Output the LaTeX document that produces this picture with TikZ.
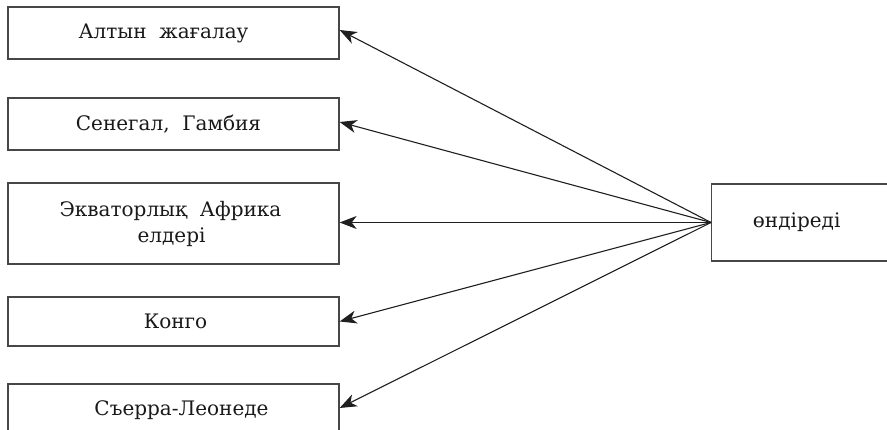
\documentclass[tikz,border=0pt]{standalone}
\usepackage{fontspec}
\setmainfont{DejaVu Serif}
\usetikzlibrary{arrows.meta}
\begin{document}
\begin{tikzpicture}[x=1pt,y=-1pt,
  box/.style={draw=black!72,line width=1.3pt,minimum width=331pt,inner sep=0pt,align=center,text=black!90,font=\fontsize{20}{26}\selectfont},
  arr/.style={draw=black!88,line width=1.1pt,-{Stealth[length=17pt,width=13pt,inset=5pt]}}]
\useasboundingbox (0,0) rectangle (887,430);
\clip (0,0) rectangle (887,430);
\node[box,minimum height=52pt] (b1) at (173.5,33) {\hspace*{-20pt}Алтын\ \ жағалау};
\node[box,minimum height=52pt] (b2) at (173.5,124) {\hspace*{-10pt}Сенегал,\ \ Гамбия};
\node[box,minimum height=81pt] (b3) at (173.5,223.5) {\hspace*{-6pt}Экваторлық\ \ Африка\\\hspace*{-4pt}елдері};
\node[box,minimum height=49pt] (b4) at (173.5,321.5) {\hspace*{4pt}Конго};
\node[box,minimum height=52pt] (b5) at (173.5,410) {\raisebox{4pt}{\hspace*{16pt}Съерра-Леонеде}};
\node[box,minimum width=200pt,minimum height=77pt,anchor=west] (rt) at (711,222.5) {\hspace*{-30pt}өндіреді};
\draw[arr] (rt.west) -- ([yshift=3pt]b1.east);
\draw[arr] (rt.west) -- ([yshift=2pt]b2.east);
\draw[arr] (rt.west) -- ([yshift=1pt]b3.east);
\draw[arr] (rt.west) -- (b4.east);
\draw[arr] (rt.west) -- ([yshift=2pt]b5.east);
\end{tikzpicture}
\end{document}
